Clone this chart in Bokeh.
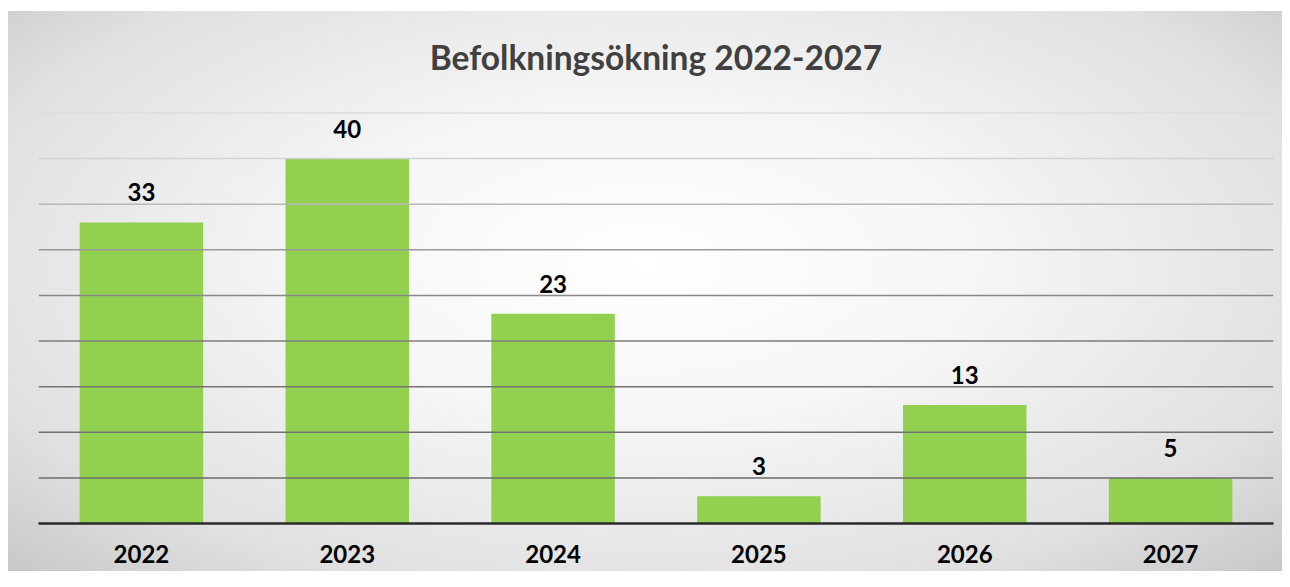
from bokeh.plotting import figure
from bokeh.models import FactorRange, Range1d, Label, ColumnDataSource, Span
from bokeh.core.properties import value
from bokeh.embed import file_html
from bokeh.resources import INLINE

years = ["2022", "2023", "2024", "2025", "2026", "2027"]
increase = [33, 40, 23, 3, 13, 5]
grid_ticks = [5, 10, 15, 20, 25, 30, 35, 40, 45]
grid_colors = ["#6c6c6c", "#707070", "#747474", "#7c7c7c", "#888888",
               "#9a9a9a", "#b8b8b8", "#d2d2d2", "#dcdcdc"]
title_text = "Befolkningsökning 2022-2027"

FONT = "Lato"

src = ColumnDataSource(dict(x=years, top=increase, label=[str(v) for v in increase]))

p = figure(
    x_range=FactorRange(*years, range_padding=0),
    y_range=Range1d(0, 56),
    width=1282, height=571,
    output_backend="svg", toolbar_location=None,
    min_border_left=38, min_border_right=9, min_border_top=12, min_border_bottom=48,
)
p.styles = {
    "background": "radial-gradient(ellipse at 50% 45%, #ffffff 0%, #f5f5f5 38%, #e0e0e0 78%, #c8c8c8 100%) "
                  "8px 11px / calc(100% - 8px) calc(100% - 11px) no-repeat, #ffffff"
}
p.border_fill_alpha = 0
p.background_fill_alpha = 0
p.outline_line_color = None

p.xgrid.grid_line_color = None
p.ygrid.grid_line_color = None
for t, c in zip(grid_ticks, grid_colors):
    p.add_layout(Span(location=t, dimension="width", line_color=c, line_width=1.5))

p.vbar(x="x", top="top", width=0.6, source=src, fill_color="#92D050", line_color=None)

p.text(x="x", y="top", text="label", source=src, text_align="center", text_baseline="bottom",
       y_offset=-21, text_font=value(FONT), text_font_style="bold", text_font_size="24px",
       text_color="#000000")

p.yaxis.visible = False

p.xaxis.axis_line_color = "#2a2a2a"
p.xaxis.axis_line_width = 2.5
p.xaxis.major_tick_line_color = None
p.xaxis.minor_tick_line_color = None
p.xaxis.major_label_text_font = FONT
p.xaxis.major_label_text_font_style = "bold"
p.xaxis.major_label_text_font_size = "24px"
p.xaxis.major_label_text_color = "#000000"
p.xaxis.major_label_standoff = 15

p.add_layout(Label(x=3, y=51.1, text=title_text, text_align="center", text_baseline="middle",
                   text_font=FONT, text_font_style="bold", text_font_size="33.5px",
                   text_color="#404040"))

open("out.html", "w").write(file_html(p, INLINE))
